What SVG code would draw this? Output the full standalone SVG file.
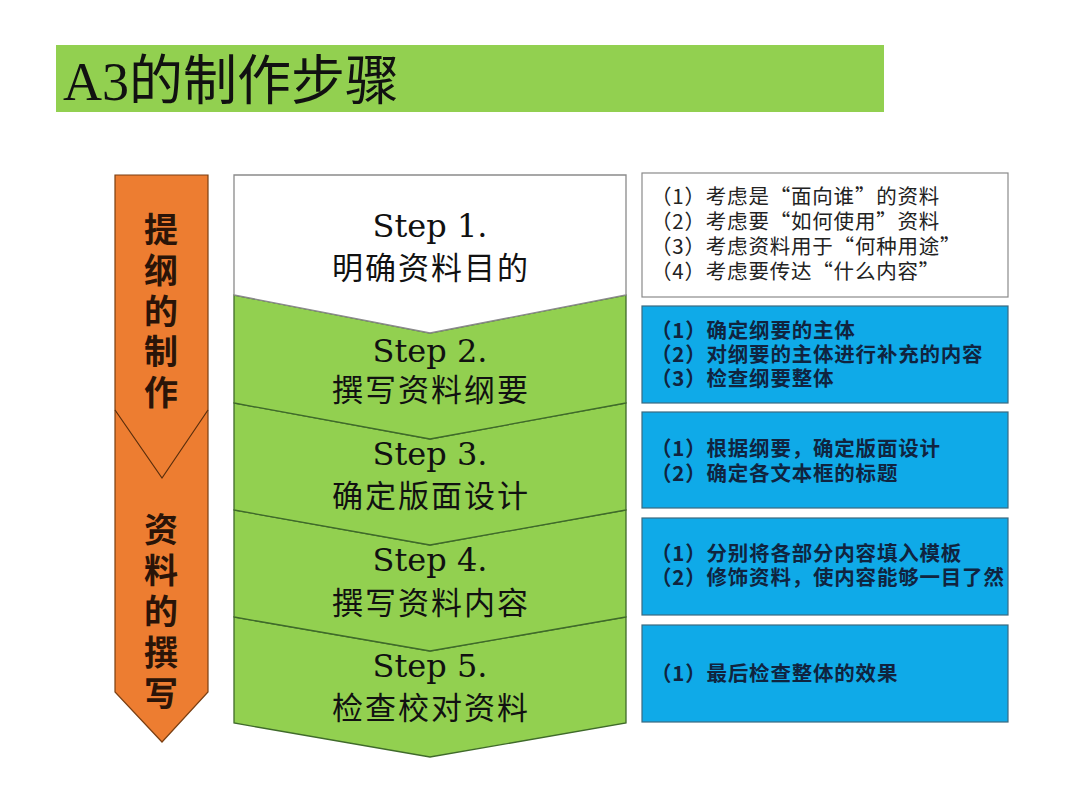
<svg xmlns="http://www.w3.org/2000/svg" width="1080" height="809" viewBox="0 0 1080 809">
<style>
.title{font-family:"Liberation Serif","Noto Sans CJK SC",serif;font-size:54px;fill:#111}
.vert{font-family:"Noto Sans CJK SC",sans-serif;font-size:34px;font-weight:bold;fill:#2a1408;text-anchor:middle}
.step{font-family:"DejaVu Serif",serif;font-size:32px;fill:#111;text-anchor:middle}
.stepcn{font-family:"Noto Sans CJK SC",sans-serif;font-size:31px;letter-spacing:2px}
.chev{fill:#92D050;stroke:#3f6a2a;stroke-width:1.3}
.chev1{fill:#ffffff;stroke:#8a8a8a;stroke-width:1.3}
.box{fill:#0FAAE8;stroke:#3a6a80;stroke-width:1.2}
.box1{fill:#ffffff;stroke:#8a8a8a;stroke-width:1.2}
.bt{font-family:"Noto Sans CJK SC",sans-serif;font-size:20.5px;letter-spacing:0.8px;fill:#222}
.btb{font-family:"Noto Sans CJK SC",sans-serif;font-size:20.5px;letter-spacing:0.8px;font-weight:bold;fill:#10243f}
</style>
<rect width="1080" height="809" fill="#ffffff"/>
<g id="title">
<rect x="56" y="45" width="828" height="67" fill="#92D050"/>
<text class="title" x="63" y="100">A3的制作步骤</text>
</g>
<g id="phase-arrow">
<path d="M115,175 H208 V692 L162,742 L115,692 Z" fill="#ED7D31" stroke="#7a3f12" stroke-width="1.2"/>
<path d="M115,410 L162,478 L208,410" fill="none" stroke="#5a2e0c" stroke-width="1.2"/>
<text class="vert"><tspan x="161" y="242">提</tspan><tspan x="161" y="283">纲</tspan><tspan x="161" y="324">的</tspan><tspan x="161" y="364">制</tspan><tspan x="161" y="405">作</tspan></text>
<text class="vert"><tspan x="161" y="542">资</tspan><tspan x="161" y="583">料</tspan><tspan x="161" y="624">的</tspan><tspan x="161" y="665">撰</tspan><tspan x="161" y="706">写</tspan></text>
</g>
<g id="step5">
<path class="chev" d="M234,617 L430,651 L626,617 L626,723 L430,757 L234,723 Z"/>
<text class="step"><tspan x="430" y="677">Step 5.</tspan><tspan class="stepcn" x="431" y="719">检查校对资料</tspan></text>
</g>
<g id="step4">
<path class="chev" d="M234,510 L430,545 L626,510 L626,617 L430,651 L234,617 Z"/>
<text class="step"><tspan x="430" y="571">Step 4.</tspan><tspan class="stepcn" x="431" y="614">撰写资料内容</tspan></text>
</g>
<g id="step3">
<path class="chev" d="M234,403 L430,439 L626,403 L626,510 L430,545 L234,510 Z"/>
<text class="step"><tspan x="430" y="465">Step 3.</tspan><tspan class="stepcn" x="431" y="507">确定版面设计</tspan></text>
</g>
<g id="step2">
<path class="chev" d="M234,295 L430,333 L626,295 L626,403 L430,439 L234,403 Z"/>
<text class="step"><tspan x="430" y="362">Step 2.</tspan><tspan class="stepcn" x="431" y="401">撰写资料纲要</tspan></text>
</g>
<g id="step1">
<path class="chev1" d="M234,175 H626 V295 L430,333 L234,295 Z"/>
<text class="step"><tspan x="430" y="237">Step 1.</tspan><tspan class="stepcn" x="431" y="279">明确资料目的</tspan></text>
</g>
<g id="box1">
<rect class="box1" x="642" y="173" width="366" height="124"/>
<text class="bt"><tspan x="651" y="204">（1）考虑是“面向谁”的资料</tspan><tspan x="651" y="229">（2）考虑要“如何使用”资料</tspan><tspan x="651" y="254">（3）考虑资料用于“何种用途”</tspan><tspan x="651" y="279">（4）考虑要传达“什么内容”</tspan></text>
</g>
<g id="box2">
<rect class="box" x="642" y="306" width="366" height="97"/>
<text class="btb"><tspan x="651" y="338">（1）确定纲要的主体</tspan><tspan x="651" y="362">（2）对纲要的主体进行补充的内容</tspan><tspan x="651" y="386">（3）检查纲要整体</tspan></text>
</g>
<g id="box3">
<rect class="box" x="642" y="412" width="366" height="96"/>
<text class="btb"><tspan x="651" y="456">（1）根据纲要，确定版面设计</tspan><tspan x="651" y="481">（2）确定各文本框的标题</tspan></text>
</g>
<g id="box4">
<rect class="box" x="642" y="518" width="366" height="97"/>
<text class="btb"><tspan x="651" y="561">（1）分别将各部分内容填入模板</tspan><tspan x="651" y="585">（2）修饰资料，使内容能够一目了然</tspan></text>
</g>
<g id="box5">
<rect class="box" x="642" y="625" width="366" height="97"/>
<text class="btb" x="651" y="681">（1）最后检查整体的效果</text>
</g>
<g id="connectors"></g>
</svg>
